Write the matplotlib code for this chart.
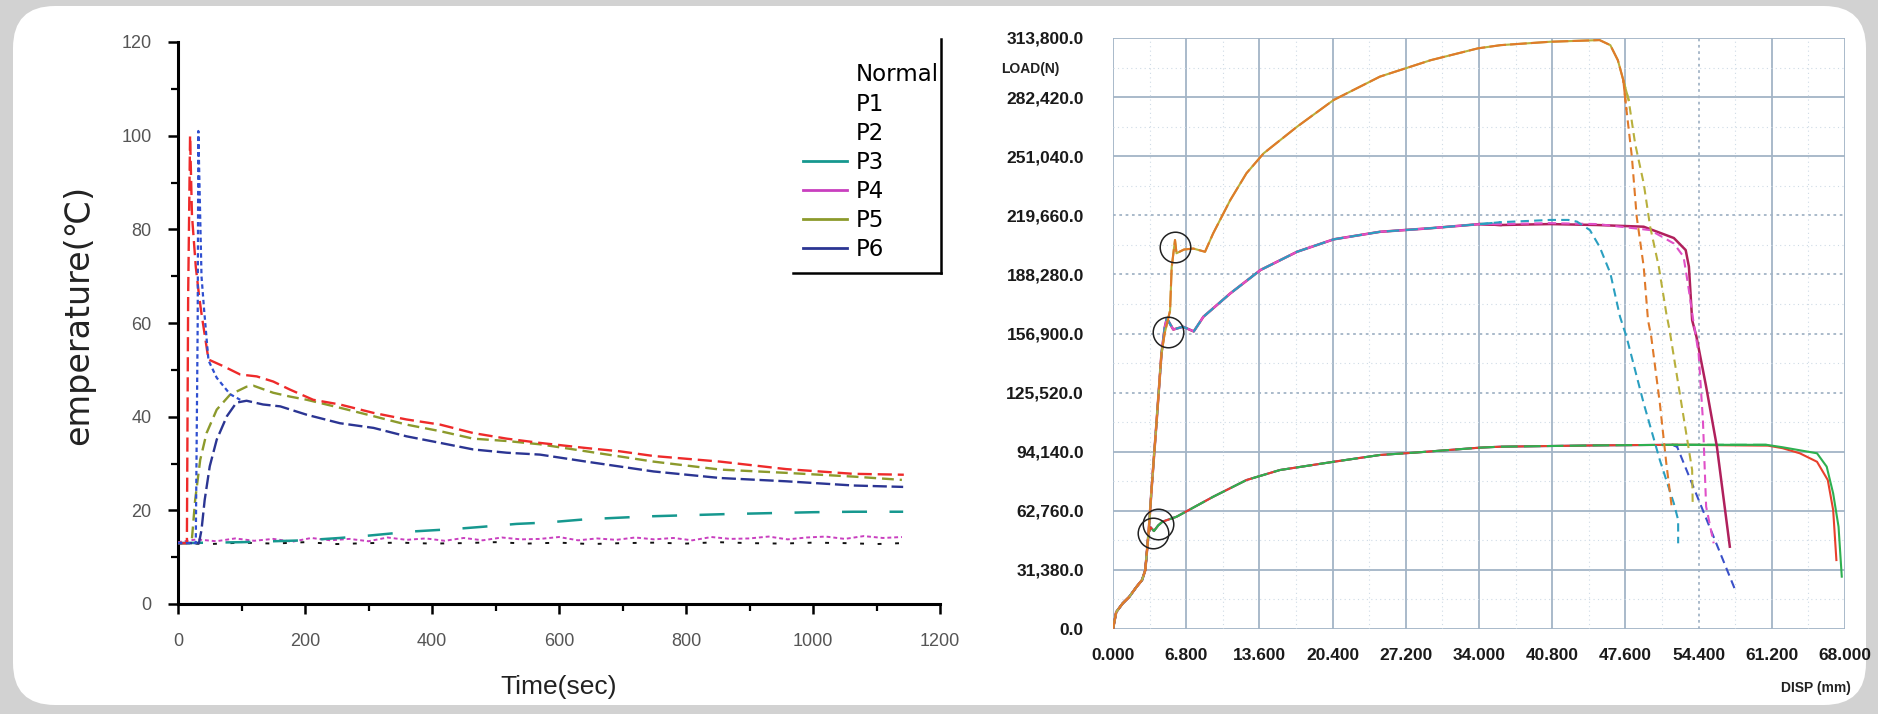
import matplotlib
matplotlib.use("Agg")
import matplotlib.pyplot as plt
from matplotlib.lines import Line2D
from matplotlib.patches import FancyBboxPatch
from matplotlib.transforms import IdentityTransform
from matplotlib.ticker import MultipleLocator, FixedLocator, FuncFormatter

# ---------------- left chart: temperature vs time ----------------
time_ticks = [0, 200, 400, 600, 800, 1000, 1200]
temp_ticks = [0, 20, 40, 60, 80, 100, 120]
legend_labels = ["Normal", "P1", "P2", "P3", "P4", "P5", "P6"]

normal_t = [0, 14, 16, 19, 22, 28, 33, 37, 48, 71, 98, 124, 150, 176, 213, 255, 308,
            360, 413, 465, 518, 570, 643, 696, 749, 854, 958, 1063, 1143]
normal_T = [13, 13, 66, 100, 83, 72, 66, 62, 52.2, 50.8, 49, 48.6, 47.5, 45.8, 43.6, 42.6,
            40.8, 39.4, 38.3, 36.5, 35.3, 34.4, 33.3, 32.6, 31.6, 30.4, 28.8, 27.8, 27.6]

p1_t = [0, 28, 31, 32, 37, 41, 48, 61, 82, 98]
p1_T = [13, 13, 60, 101, 70, 63, 52, 48.3, 44.8, 43.6]

p2_t = [0, 50, 100, 150, 200, 250, 300, 350, 400, 450, 500, 550, 600, 650, 700, 750,
        800, 850, 900, 950, 1000, 1050, 1100, 1140]
p2_T = [13.0, 12.8, 13.1, 12.9, 13.2, 12.8, 13.0, 13.1, 12.9, 13.0, 13.2, 12.9, 13.1,
        12.8, 13.0, 13.1, 12.9, 13.2, 13.0, 12.9, 13.1, 13.0, 12.8, 13.0]

p3_t = [0, 100, 200, 255, 300, 371, 434, 481, 533, 581, 643, 738, 864, 1000, 1064, 1142]
p3_T = [13, 13.2, 13.6, 14.1, 14.6, 15.5, 16.0, 16.5, 17.1, 17.4, 18.1, 18.7, 19.2, 19.6,
        19.7, 19.7]

p4_t = [0, 30, 60, 90, 120, 150, 180, 210, 240, 270, 300, 330, 360, 390, 420, 450, 480,
        510, 540, 570, 600, 630, 660, 690, 720, 750, 780, 810, 840, 870, 900, 930, 960,
        990, 1020, 1050, 1080, 1110, 1140]
p4_T = [13.2, 13.8, 13.4, 14.0, 13.5, 13.9, 13.3, 14.1, 13.6, 13.9, 13.4, 14.2, 13.7,
        14.0, 13.5, 14.1, 13.6, 14.2, 13.8, 13.9, 14.3, 13.6, 14.0, 13.7, 14.2, 13.8,
        14.1, 13.6, 14.3, 13.9, 14.0, 14.4, 13.8, 14.2, 14.4, 13.9, 14.5, 14.1, 14.3]

p5_t = [0, 20, 22, 27, 35, 45, 61, 82, 108, 119, 150, 176, 203, 255, 308, 360, 413, 465,
        518, 570, 643, 749, 854, 958, 1064, 1140]
p5_T = [13, 13, 14, 22.2, 30.8, 36.5, 41.5, 44.7, 46.4, 46.6, 45.1, 44.3, 43.6, 41.9,
        40.1, 38.3, 36.9, 35.3, 34.8, 34.1, 32.6, 30.4, 28.7, 28.0, 27.2, 26.5]

p6_t = [0, 33, 37, 42, 50, 61, 77, 92, 108, 134, 161, 203, 255, 308, 360, 413, 465, 518,
        570, 643, 749, 854, 958, 1064, 1142]
p6_T = [13, 13, 15.8, 22.2, 29.4, 35.1, 40.1, 43.0, 43.4, 42.6, 42.2, 40.4, 38.6, 37.6,
        35.8, 34.4, 33.0, 32.3, 31.9, 30.4, 28.3, 26.9, 26.2, 25.3, 25.0]

# ---------------- right chart: load vs displacement ----------------
disp_ticks = [0.0, 6.8, 13.6, 20.4, 27.2, 34.0, 40.8, 47.6, 54.4, 61.2, 68.0]
load_ticks = [0.0, 31380.0, 62760.0, 94140.0, 125520.0, 156900.0, 188280.0, 219660.0,
              251040.0, 282420.0, 313800.0]

elastic_disp = [0.0, 0.3, 0.9, 1.5, 2.2, 2.7, 3.0, 3.3]
elastic_load = [0, 9000, 13600, 17000, 22500, 26000, 31300, 50800]

top_disp = [3.6, 4.06, 4.5, 4.8, 5.3, 5.45, 5.76, 5.9, 6.6, 7.46, 8.55, 9.3, 10.9, 12.4,
            14.0, 17.1, 20.5, 24.8, 29.5, 33.9, 36.0, 40.6, 45.2, 46.2, 46.9, 47.4]
top_load = [75600, 111000, 146000, 157000, 169000, 192000, 206500, 199500, 201500,
            202000, 200300, 210000, 227800, 242000, 252600, 266700, 280900, 293300,
            302000, 308300, 310000, 311800, 312700, 310000, 302000, 291500]
orange_drop_disp = [47.7, 48.2, 48.65, 49.3, 49.7, 50.0, 50.8, 51.4, 51.9]
orange_drop_load = [275600, 250800, 218900, 192400, 164000, 155200, 119800, 88000, 65000]
olive_drop_disp = [47.9, 48.5, 49.3, 49.9, 50.7, 51.4, 51.7, 52.8, 53.8, 53.85]
olive_drop_load = [280900, 257800, 236600, 213600, 192400, 167600, 158800, 119800,
                   84400, 66700]

mid_disp = [3.6, 4.06, 4.5, 4.8, 5.0, 5.6, 6.5, 7.5, 8.4, 10.9, 13.7, 17.1, 20.5, 24.8,
            29.5, 34.1]
mid_load = [75600, 111000, 146000, 160000, 165000, 159000, 160500, 158000, 165800,
            178200, 190600, 200300, 206900, 210900, 212800, 215000]
cyan_end_disp = [36.0, 40.6, 42.3, 43.1, 44.3, 45.2, 46.2, 47.1, 47.7, 49.3, 50.8, 52.1,
                 52.5, 52.5]
cyan_end_load = [216000, 217200, 217200, 216300, 211800, 203000, 188900, 165800, 155200,
                 119800, 89700, 66700, 57900, 45500]
pink_end_disp = [36.0, 40.6, 45.0, 49.9, 52.1, 53.0, 53.4, 53.9, 54.4, 54.8, 55.1, 55.8]
pink_end_load = [215000, 215500, 215000, 211800, 204700, 197700, 183600, 164000, 146400,
                 111000, 65000, 45500]
crimson_end_disp = [36.0, 40.6, 45.0, 49.3, 52.1, 53.2, 53.5, 53.8, 54.2, 55.1, 56.1, 57.3]
crimson_end_load = [214500, 215000, 214500, 213600, 207600, 201200, 192400, 164000,
                    155200, 128700, 96800, 43700]

low_disp = [3.5, 3.8, 4.2, 4.6, 5.9, 9.3, 12.4, 15.5, 20.5, 24.8, 27.9, 34.1, 36.0, 45.0,
            52.0]
low_load = [54000, 52000, 55000, 57000, 59600, 70200, 79100, 84400, 88800, 92400, 93600,
            96300, 96800, 97500, 97800]
green_end_disp = [60.7, 62.2, 65.4, 66.3, 66.9, 67.4, 67.7]
green_end_load = [97800, 96500, 93300, 86200, 72000, 54300, 27800]
red_end_disp = [60.7, 62.2, 63.8, 65.4, 66.4, 66.9, 67.2]
red_end_load = [97500, 96000, 93300, 88800, 79100, 63200, 36600]
blue_end_disp = [52.4, 57.8]
blue_end_load = [96800, 20700]

circle_disp = [5.8, 5.1, 4.2, 3.7]
circle_load = [203000, 157700, 56000, 51000]

# ---------------- figure ----------------
W, H, DPI = 1878, 714, 100
fig = plt.figure(figsize=(W / DPI, H / DPI), dpi=DPI)
fig.patch.set_facecolor("#d2d2d2")
card = FancyBboxPatch((13, 9), 1853, 699, boxstyle="round,pad=0,rounding_size=42",
                      transform=IdentityTransform(), facecolor="white", edgecolor="none",
                      zorder=-5)
fig.add_artist(card)

FONT = ["Liberation Sans", "DejaVu Sans"]

# ---- left axes ----
axL = fig.add_axes([178 / W, 1 - 604 / H, (940 - 178) / W, (604 - 42) / H])
axL.set_facecolor("none")
axL.set_xlim(time_ticks[0], time_ticks[-1])
axL.set_ylim(temp_ticks[0], temp_ticks[-1])
axL.xaxis.set_major_locator(FixedLocator(time_ticks))
axL.yaxis.set_major_locator(FixedLocator(temp_ticks))
axL.xaxis.set_minor_locator(MultipleLocator(100))
axL.yaxis.set_minor_locator(MultipleLocator(10))
for s in ["top", "right"]:
    axL.spines[s].set_visible(False)
for s in ["left", "bottom"]:
    axL.spines[s].set_linewidth(2.2)
axL.tick_params(which="major", direction="out", length=7, width=1.8, labelsize=13,
                labelcolor="#555555")
axL.tick_params(which="minor", direction="out", length=5, width=1.6)
axL.tick_params(axis="x", which="major", pad=14)
axL.tick_params(axis="y", which="major", pad=12)
for lab in axL.get_xticklabels() + axL.get_yticklabels():
    lab.set_family(FONT)

colL = {"Normal": "#ee2a2a", "P1": "#2f4fd0", "P2": "#111111", "P3": "#16988f",
        "P4": "#c93fbf", "P5": "#8c9a2c", "P6": "#2b3593"}
axL.plot(p2_t, p2_T, color=colL["P2"], lw=1.4, ls=(0, (2, 7)), zorder=2)
axL.plot(p4_t, p4_T, color=colL["P4"], lw=1.4, ls=(0, (2, 1.5)), zorder=3)
axL.plot(p3_t, p3_T, color=colL["P3"], lw=1.8, ls=(0, (10, 9)), zorder=3)
axL.plot(p6_t, p6_T, color=colL["P6"], lw=1.7, ls=(0, (6, 2)), zorder=4)
axL.plot(p5_t, p5_T, color=colL["P5"], lw=1.7, ls=(0, (5, 2.5)), zorder=5)
axL.plot(normal_t, normal_T, color=colL["Normal"], lw=1.7, ls=(0, (6, 2.5)), zorder=6)
axL.plot(p1_t, p1_T, color=colL["P1"], lw=1.6, ls=(0, (2, 1.5)), zorder=6)

axL.set_xlabel("Time(sec)", fontsize=19, family=FONT, color="#222222")
axL.xaxis.set_label_coords(0.5, -0.147)
axL.xaxis.label.set_va("center")
axL.set_ylabel("emperature(\u2103)", fontsize=24, family=["DejaVu Sans"], color="#222222")
axL.yaxis.set_label_coords(-0.131, 0.515)
axL.yaxis.label.set_va("center")

handles = []
for name in legend_labels:
    if name in ("Normal", "P1", "P2"):
        handles.append(Line2D([], [], color="none", lw=2))
    else:
        handles.append(Line2D([], [], color=colL[name], lw=2))
leg = axL.legend(handles, legend_labels, loc="upper right", bbox_to_anchor=(0.998, 0.962),
                 frameon=False, prop={"family": "DejaVu Sans", "size": 16.5},
                 handlelength=1.9, handletextpad=0.37, labelspacing=0.27, borderpad=0,
                 borderaxespad=0)

# ---- right axes ----
axR = fig.add_axes([1113 / W, 1 - 629 / H, (1845 - 1113) / W, (629 - 38) / H])
axR.set_facecolor("none")
axR.set_xlim(disp_ticks[0], disp_ticks[-1])
axR.set_ylim(load_ticks[0], load_ticks[-1])
axR.xaxis.set_major_locator(FixedLocator(disp_ticks))
axR.yaxis.set_major_locator(FixedLocator(load_ticks))
axR.xaxis.set_major_formatter(FuncFormatter(lambda v, p: f"{v:.3f}"))
axR.yaxis.set_major_formatter(FuncFormatter(lambda v, p: f"{v:,.1f}"))
for s in axR.spines.values():
    s.set_visible(False)
axR.tick_params(length=0, labelsize=12.5)
axR.tick_params(axis="y", pad=21)
axR.tick_params(axis="x", pad=14)
for lab in axR.get_xticklabels() + axR.get_yticklabels():
    lab.set_family(FONT)
    lab.set_fontweight("bold")
    lab.set_color("#1a1a1a")

dotted_load = [125520.0, 156900.0, 188280.0, 219660.0]
dotted_disp = [54.4]
for v in load_ticks:
    ls = (0, (1.5, 2)) if v in dotted_load else "-"
    axR.axhline(v, color="#a3b4c6", lw=1.3, ls=ls, zorder=0)
for v in disp_ticks:
    ls = (0, (1.5, 2)) if v in dotted_disp else "-"
    axR.axvline(v, color="#a3b4c6", lw=1.3, ls=ls, zorder=0)
for i in range(len(load_ticks) - 1):
    axR.axhline((load_ticks[i] + load_ticks[i + 1]) / 2, color="#cfdbe6", lw=0.8,
                ls=(0, (1, 3)), zorder=0)
for i in range(len(disp_ticks) - 1):
    axR.axvline((disp_ticks[i] + disp_ticks[i + 1]) / 2, color="#cfdbe6", lw=0.8,
                ls=(0, (1, 3)), zorder=0)

colR = {"orange": "#e07a2a", "olive": "#b8b03c", "cyan": "#2a9fc0", "pink": "#e050c8",
        "crimson": "#b0205c", "green": "#2eb050", "red": "#e8402c", "blue": "#3a50c8"}


def draw(body_d, body_l, end_d, end_l, color, dashed_end, lw=1.5, z=3, ls="-"):
    d = elastic_disp + body_d
    l = elastic_load + body_l
    axR.plot(d + end_d[:1], l + end_l[:1], color=color, lw=lw, zorder=z, ls=ls)
    axR.plot([d[-1]] + end_d, [l[-1]] + end_l, color=color, lw=lw, zorder=z,
             ls=(0, (4, 2.5)) if dashed_end else "-")


draw(low_disp, low_load, blue_end_disp, blue_end_load, colR["blue"], True)
draw(low_disp, low_load, red_end_disp, red_end_load, colR["red"], False)
draw(low_disp, low_load, green_end_disp, green_end_load, colR["green"], False,
     ls=(0, (8, 3)))
draw(mid_disp, mid_load, crimson_end_disp, crimson_end_load, colR["crimson"], False, lw=1.8)
draw(mid_disp, mid_load, pink_end_disp, pink_end_load, colR["pink"], True)
draw(mid_disp, mid_load, cyan_end_disp, cyan_end_load, colR["cyan"], True,
     ls=(0, (6, 3)))
draw(top_disp, top_load, olive_drop_disp, olive_drop_load, colR["olive"], True)
draw(top_disp, top_load, orange_drop_disp, orange_drop_load, colR["orange"], True,
     ls=(0, (8, 2)))

axR.plot(circle_disp, circle_load, ls="none", marker="o", markersize=22,
         markerfacecolor="none", markeredgecolor="#222222", markeredgewidth=1.1, zorder=6)

axR.text(-0.153, 0.9475, "LOAD(N)", transform=axR.transAxes, ha="left", va="center",
         fontsize=10, fontweight="bold", family=FONT, color="#222222")
axR.text(1.008, -0.10, "DISP (mm)", transform=axR.transAxes, ha="right", va="center",
         fontsize=10, fontweight="bold", family=FONT, color="#222222")

# legend frame: right and bottom edges only
fig.canvas.draw()
bb = leg.get_window_extent()
xr = bb.x1 + 3
yb = bb.y0 - 12
fig.add_artist(Line2D([xr, xr], [yb, bb.y1 + 24], color="black", lw=1.8,
                      transform=IdentityTransform()))
fig.add_artist(Line2D([bb.x0 - 10, xr], [yb, yb], color="black", lw=1.8,
                      transform=IdentityTransform()))

fig.savefig("out.png", dpi=DPI, facecolor=fig.get_facecolor())
